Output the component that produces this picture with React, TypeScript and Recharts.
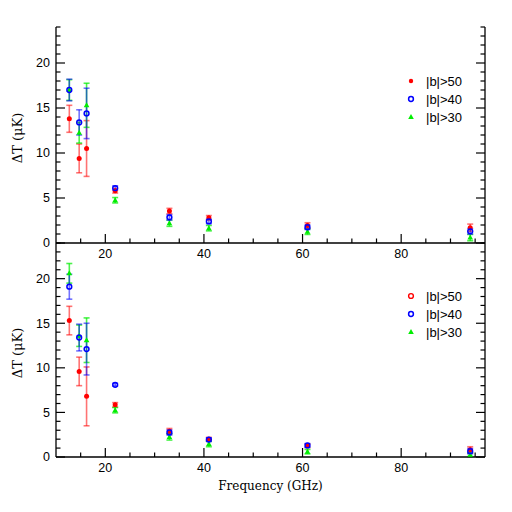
import React from 'react';
import { ScatterChart, Scatter, XAxis, YAxis, ErrorBar, Legend } from 'recharts';

// ---------- data ----------
const freqs = [12.7, 14.7, 16.2, 22, 33, 41, 61, 94];

const topB50 = [13.8, 9.4, 10.5, 5.8, 3.55, 2.8, 1.95, 1.7];
const topB50Err = [1.5, 1.6, 3.1, 0.25, 0.3, 0.25, 0.3, 0.4];
const topB40 = [17.0, 13.4, 14.4, 6.1, 2.85, 2.4, 1.75, 1.3];
const topB40Err = [1.2, 1.4, 2.8, 0.25, 0.3, 0.25, 0.25, 0.3];
const topB30 = [17.0, 12.25, 15.3, 4.75, 2.2, 1.65, 1.25, 0.6];
const topB30Err = [1.15, 1.15, 2.45, 0.3, 0.35, 0.3, 0.3, 0.35];

const botB50 = [15.3, 9.6, 6.8, 5.85, 2.9, 2.0, 1.25, 0.8];
const botB50Err = [1.6, 1.6, 3.3, 0.25, 0.3, 0.2, 0.2, 0.35];
const botB40 = [19.1, 13.4, 12.1, 8.1, 2.75, 1.95, 1.3, 0.65];
const botB40Err = [1.4, 1.5, 2.9, 0.15, 0.3, 0.2, 0.2, 0.3];
const botB30 = [20.6, 13.6, 13.1, 5.25, 2.25, 1.45, 0.6, 0.25];
const botB30Err = [1.1, 1.2, 2.5, 0.3, 0.35, 0.3, 0.25, 0.2];

const seriesLabels = ['|b|>50', '|b|>40', '|b|>30'];
const xTicks = [15, 20, 25, 30, 35, 40, 45, 50, 55, 60, 65, 70, 75, 80, 85, 90, 95];
const xMajor = [20, 40, 60, 80];
const yTicks = [0, 1, 2, 3, 4, 5, 6, 7, 8, 9, 10, 11, 12, 13, 14, 15, 16, 17, 18, 19, 20, 21, 22, 23, 24];
const yMajor = [0, 5, 10, 15, 20];
const xDomain = [10, 97];
const yDomain = [0, 24];
const xTitle = 'Frequency (GHz)';
const yTitle = 'ΔT (μK)';

const RED = '#ff0000';
const BLUE = '#0000ff';
const GREEN = '#00ee00';

const mk = (vals: number[], errs: number[]) =>
  freqs.map((f, i) => ({ x: f, y: vals[i], e: errs[i] }));

// ---------- shapes ----------
const RedDot = (p: any) => <circle cx={p.cx} cy={p.cy} r={2.5} fill={RED} />;
const RedRing = (p: any) => (
  <circle cx={p.cx} cy={p.cy} r={2.4} fill="none" stroke={RED} strokeWidth={1.4} />
);
const BlueRing = (p: any) => (
  <circle cx={p.cx} cy={p.cy} r={2.4} fill="none" stroke={BLUE} strokeWidth={1.5} />
);
const GreenTri = (p: any) => (
  <polygon
    points={`${p.cx},${p.cy - 3} ${p.cx - 2.8},${p.cy + 2} ${p.cx + 2.8},${p.cy + 2}`}
    fill={GREEN}
  />
);

// ---------- ticks ----------
const TICK_FONT = 'Liberation Sans, Arial, sans-serif';
const MAJ = 9;
const MIN = 4.5;

const BottomTick = (p: any) => {
  const v = p.payload.value;
  const major = xMajor.includes(v);
  return (
    <g>
      <line x1={p.x} y1={p.y} x2={p.x} y2={p.y - (major ? MAJ : MIN)} stroke="#000" strokeWidth={1.2} />
      {major && (
        <text x={p.x} y={p.y + 14.5} textAnchor="middle" fontSize={12.5} fontFamily={TICK_FONT} fill="#000">
          {v}
        </text>
      )}
    </g>
  );
};
const TopTick = (p: any) => {
  const v = p.payload.value;
  const major = xMajor.includes(v);
  return <line x1={p.x} y1={p.y} x2={p.x} y2={p.y + (major ? MAJ : MIN)} stroke="#000" strokeWidth={1.2} />;
};
const LeftTick = (p: any) => {
  const v = p.payload.value;
  const major = yMajor.includes(v);
  return (
    <g>
      <line x1={p.x} y1={p.y} x2={p.x + (major ? MAJ : MIN)} y2={p.y} stroke="#000" strokeWidth={1.2} />
      {major && (
        <text x={p.x - 6} y={p.y + 4.4} textAnchor="end" fontSize={12.5} fontFamily={TICK_FONT} fill="#000">
          {v}
        </text>
      )}
    </g>
  );
};
const RightTick = (p: any) => {
  const v = p.payload.value;
  const major = yMajor.includes(v);
  return <line x1={p.x} y1={p.y} x2={p.x - (major ? MAJ : MIN)} y2={p.y} stroke="#000" strokeWidth={1.2} />;
};

const YTitle = (props: any) => {
  const vb = props.viewBox;
  const cx = vb.x + 22;
  const cy = vb.y + vb.height / 2 + 3;
  return (
    <text
      x={cx}
      y={cy}
      transform={`rotate(-90 ${cx} ${cy})`}
      textAnchor="middle"
      fontSize={13}
      fontFamily="DejaVu Serif, serif"
      fill="#000"
    >
      {yTitle}
    </text>
  );
};

const XTitle = (props: any) => {
  const vb = props.viewBox;
  return (
    <text
      x={vb.x + vb.width / 2}
      y={vb.y + 33}
      textAnchor="middle"
      fontSize={12}
      fontFamily="DejaVu Serif, serif"
      fill="#000"
    >
      {xTitle}
    </text>
  );
};

const makeLegend = (redOpen: boolean) => () => {
  const rows = [0, 1, 2];
  return (
    <svg width={90} height={56} style={{ display: 'block' }}>
      {rows.map((i) => {
        const cy = 9 + i * 18;
        const cx = 11;
        let marker;
        if (i === 0) marker = redOpen ? <RedRing cx={cx} cy={cy} /> : <circle cx={cx} cy={cy} r={2.2} fill={RED} />;
        else if (i === 1) marker = <BlueRing cx={cx} cy={cy} />;
        else marker = <GreenTri cx={cx} cy={cy} />;
        return (
          <g key={i}>
            {marker}
            <text x={26} y={cy + 4.5} fontSize={13} fontFamily={TICK_FONT} fill="#000">
              {seriesLabels[i]}
            </text>
          </g>
        );
      })}
    </svg>
  );
};

type PanelProps = {
  b50: number[]; b50e: number[];
  b40: number[]; b40e: number[];
  b30: number[]; b30e: number[];
  margin: { top: number; right: number; bottom: number; left: number };
  showXTitle: boolean;
  redOpenLegend: boolean;
  legendTop: number;
};

const Panel = (p: PanelProps) => (
  <div style={{ position: 'absolute', left: 0, top: 0 }}>
    <ScatterChart width={512} height={512} margin={p.margin}>
      <XAxis
        type="number"
        dataKey="x"
        domain={xDomain}
        allowDataOverflow
        ticks={xTicks}
        interval={0}
        tick={<BottomTick />}
        tickLine={false}
        tickSize={0}
        tickMargin={0}
        height={30}
        axisLine={{ stroke: '#000', strokeWidth: 1.3 }}
        label={p.showXTitle ? <XTitle /> : undefined}
      />
      <XAxis
        xAxisId="top"
        orientation="top"
        type="number"
        dataKey="x"
        domain={xDomain}
        allowDataOverflow
        ticks={xTicks}
        interval={0}
        tick={<TopTick />}
        tickLine={false}
        tickSize={0}
        tickMargin={0}
        height={0}
        axisLine={{ stroke: '#000', strokeWidth: 1.3 }}
      />
      <YAxis
        type="number"
        dataKey="y"
        domain={yDomain}
        allowDataOverflow
        ticks={yTicks}
        interval={0}
        tick={<LeftTick />}
        tickLine={false}
        tickSize={0}
        tickMargin={0}
        width={56}
        axisLine={{ stroke: '#000', strokeWidth: 1.3 }}
        label={<YTitle />}
      />
      <YAxis
        yAxisId="right"
        orientation="right"
        type="number"
        dataKey="y"
        domain={yDomain}
        allowDataOverflow
        ticks={yTicks}
        interval={0}
        tick={<RightTick />}
        tickLine={false}
        tickSize={0}
        tickMargin={0}
        width={27}
        axisLine={{ stroke: '#000', strokeWidth: 1.3 }}
      />
      <Legend
        layout="vertical"
        align="center"
        verticalAlign="middle"
        content={makeLegend(p.redOpenLegend)}
        wrapperStyle={{ position: 'absolute', left: 400, top: p.legendTop, width: 90, height: 56 }}
      />
      <Scatter data={mk(p.b50, p.b50e)} shape={RedDot} isAnimationActive={false}>
        <ErrorBar dataKey="e" direction="y" width={3} stroke={RED} strokeOpacity={0.55} strokeWidth={1.6} />
      </Scatter>
      <Scatter data={mk(p.b30, p.b30e)} shape={GreenTri} isAnimationActive={false}>
        <ErrorBar dataKey="e" direction="y" width={3} stroke={GREEN} strokeOpacity={0.7} strokeWidth={1.6} />
      </Scatter>
      <Scatter data={mk(p.b40, p.b40e)} shape={BlueRing} isAnimationActive={false}>
        <ErrorBar dataKey="e" direction="y" width={3} stroke={BLUE} strokeOpacity={0.55} strokeWidth={1.6} />
      </Scatter>
    </ScatterChart>
  </div>
);

export default function App() {
  return (
    <div style={{ position: 'absolute', left: 0, top: 0, width: 512, height: 512, background: '#fff' }}>
      <Panel
        b50={topB50} b50e={topB50Err}
        b40={topB40} b40e={topB40Err}
        b30={topB30} b30e={topB30Err}
        margin={{ top: 27, right: 0, bottom: 239, left: 0 }}
        showXTitle={false}
        redOpenLegend={false}
        legendTop={72}
      />
      <Panel
        b50={botB50} b50e={botB50Err}
        b40={botB40} b40e={botB40Err}
        b30={botB30} b30e={botB30Err}
        margin={{ top: 243, right: 0, bottom: 25, left: 0 }}
        showXTitle={true}
        redOpenLegend={true}
        legendTop={287}
      />
    </div>
  );
}
